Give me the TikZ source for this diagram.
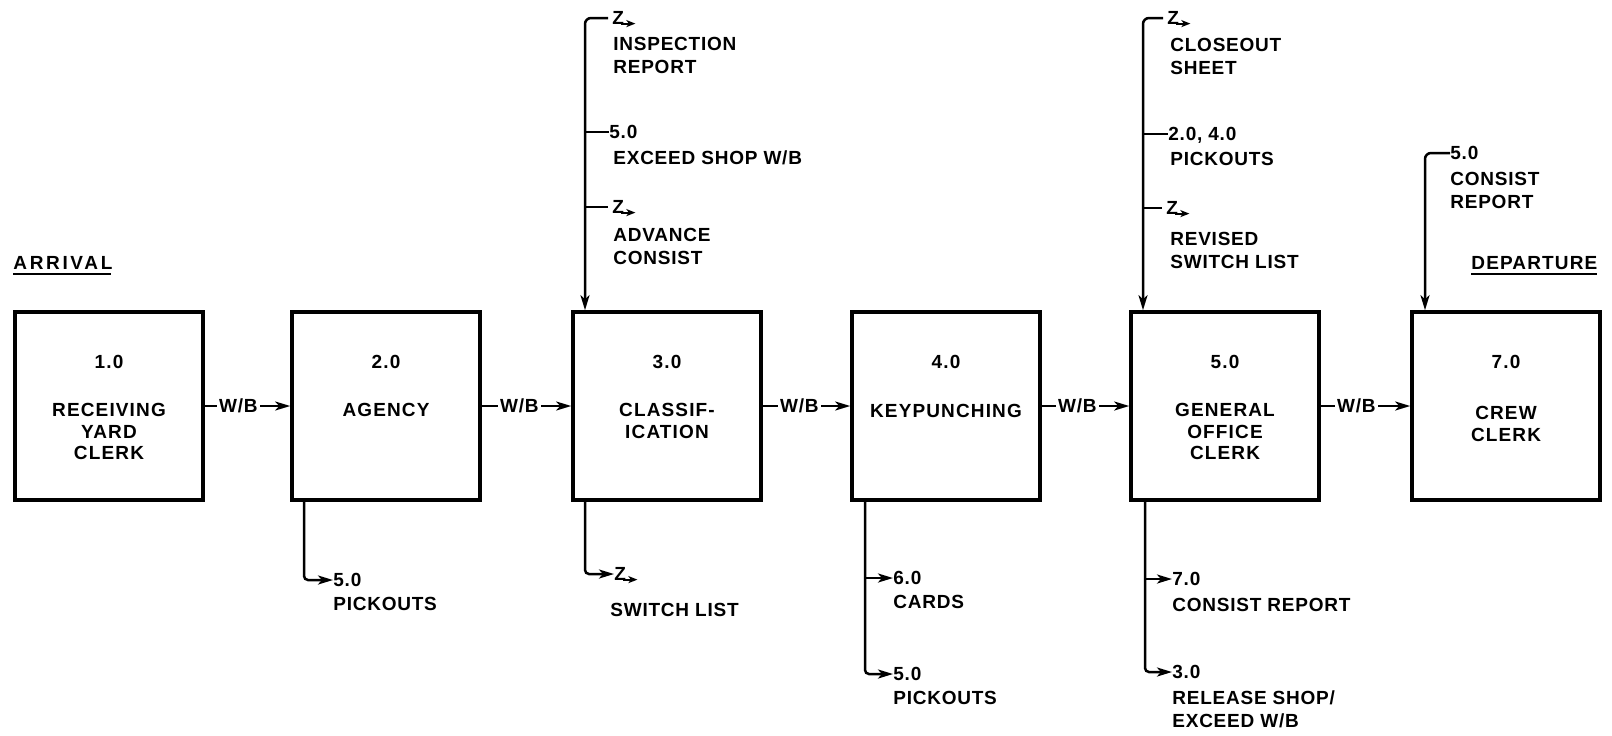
\documentclass[tikz,border=0pt]{standalone}
\usepackage{fontspec}
\setmainfont{Liberation Sans}
\newfontfamily\lblfam{Liberation Sans Bold}[LetterSpace=4]
\newfontfamily\boxfam{Liberation Sans Bold}[LetterSpace=6]
\newfontfamily\arrfam{Liberation Sans Bold}[LetterSpace=14]
\newfontfamily\depfam{Liberation Sans Bold}[LetterSpace=6]
\usetikzlibrary{arrows.meta}
\begin{document}
\begin{tikzpicture}[x=0.5pt,y=-0.5pt,
  box/.style={draw, line width=1.8pt, minimum width=94pt, minimum height=94pt, inner sep=0pt},
  conn/.style={line width=1.25pt},
  arr/.style={conn, -{Stealth[length=7.5pt,width=4.5pt,inset=2pt]}},
  zarr/.style={line width=1pt, -{Stealth[length=4.5pt,width=3.5pt,inset=1.2pt]}},
  ul/.style={line width=1.1pt},
  tag/.style={anchor=west, inner sep=0pt, text height=6.8pt, text depth=0pt, font=\lblfam\fontsize{9.5}{11.5}\selectfont},
  desc/.style={anchor=north west, inner sep=0pt, align=left, font=\lblfam\fontsize{9.5}{11.5}\selectfont},
  num/.style={inner sep=0pt, text height=6.8pt, text depth=0pt, font=\boxfam\fontsize{9.5}{10.8}\selectfont},
  inlbl/.style={anchor=north, inner sep=0pt, align=center, font=\boxfam\fontsize{9.5}{10.8}\selectfont},
  wb/.style={anchor=west, inner xsep=1pt, inner ysep=0pt, text height=6.8pt, text depth=0pt, font=\lblfam\fontsize{9.5}{11.5}\selectfont},
  title/.style={anchor=west, inner sep=0pt, text height=6.8pt, text depth=0pt}
]
\path[use as bounding box] (0,0) rectangle (1612,735);

% boxes
\node[box] (b1) at (109,406) {};
\node[box] (b2) at (386,406) {};
\node[box] (b3) at (667,406) {};
\node[box] (b4) at (946,406) {};
\node[box] (b5) at (1225,406) {};
\node[box] (b7) at (1506,406) {};

\node[num] (n1) at (109,362) {1.0};
\node[num] (n2) at (386,362) {2.0};
\node[num] (n3) at (667,362) {3.0};
\node[num] (n4) at (946,362) {4.0};
\node[num] (n5) at (1225,362) {5.0};
\node[num] (n7) at (1506,362) {7.0};

\node[inlbl] (l1) at (109,403) {RECEIVING\\YARD\\CLERK};
\node[inlbl] (l2) at (386,403) {AGENCY};
\node[inlbl] (l3) at (667,403) {CLASSIF-\\ICATION};
\node[inlbl] (l4) at (946,404) {KEYPUNCHING};
\node[inlbl] (l5) at (1225,403) {GENERAL\\OFFICE\\CLERK};
\node[inlbl] (l7) at (1506,406) {CREW\\CLERK};

% titles
\node[title, font=\arrfam\fontsize{9.5}{11.5}\selectfont] (arrival) at (13,263) {ARRIVAL};
\draw[ul] ([yshift=-2pt]arrival.south west) -- ([yshift=-2pt,xshift=-1pt]arrival.south east);
\node[title, font=\depfam\fontsize{9.5}{11.5}\selectfont] (departure) at (1471,263) {DEPARTURE};
\draw[ul] ([yshift=-2pt]departure.south west) -- ([yshift=-2pt,xshift=-0.5pt]departure.south east);

% W/B connectors
\node[wb] (w12) at ([xshift=6pt]b1.east) {W/B};
\draw[conn] (b1.east) -- (w12.west);
\draw[arr] (w12.east) -- (b2.west);
\node[wb] (w23) at ([xshift=8pt]b2.east) {W/B};
\draw[conn] (b2.east) -- (w23.west);
\draw[arr] (w23.east) -- (b3.west);
\node[wb] (w34) at ([xshift=7.5pt]b3.east) {W/B};
\draw[conn] (b3.east) -- (w34.west);
\draw[arr] (w34.east) -- (b4.west);
\node[wb] (w45) at ([xshift=7pt]b4.east) {W/B};
\draw[conn] (b4.east) -- (w45.west);
\draw[arr] (w45.east) -- (b5.west);
\node[wb] (w57) at ([xshift=7pt]b5.east) {W/B};
\draw[conn] (b5.east) -- (w57.west);
\draw[arr] (w57.east) -- (b7.west);

% inputs to 3.0
\coordinate (v3) at (585,18);
\node[tag] (t3a) at (612,18) {Z};
\draw[zarr] ([xshift=-1.5pt,yshift=0.8pt]t3a.south east) -- ++(14,0);
\node[desc] (d3a) at (613,37) {INSPECTION\\REPORT};
\node[tag] (t3b) at (609,132) {5.0};
\node[desc] (d3b) at (613,150) {EXCEED SHOP W/B};
\node[tag] (t3c) at (612,207) {Z};
\draw[zarr] ([xshift=-1.5pt,yshift=0.8pt]t3c.south east) -- ++(14,0);
\node[desc] (d3c) at (613,228) {ADVANCE\\CONSIST};
\draw[arr, rounded corners=3pt] ([xshift=-2pt]t3a.west) -- (v3) -- (v3 |- b3.north);
\draw[conn] (v3 |- t3b.west) -- (t3b.west);
\draw[conn] (v3 |- t3c.west) -- ([xshift=-2pt]t3c.west);

% output of 3.0
\coordinate (u3) at (585,574);
\node[tag] (t3d) at (614,574) {Z};
\draw[zarr] ([xshift=-1.5pt,yshift=0.8pt]t3d.south east) -- ++(14,0);
\node[desc] (d3d) at (610,603) {SWITCH LIST};
\draw[arr, rounded corners=2pt] (u3 |- b3.south) -- (u3) -- (t3d.west);

% inputs to 5.0
\coordinate (v5) at (1143,18);
\node[tag] (t5a) at (1167,18) {Z};
\draw[zarr] ([xshift=-1.5pt,yshift=0.8pt]t5a.south east) -- ++(14,0);
\node[desc] (d5a) at (1170,38) {CLOSEOUT\\SHEET};
\node[tag] (t5b) at (1168,134) {2.0, 4.0};
\node[desc] (d5b) at (1170,152) {PICKOUTS};
\node[tag] (t5c) at (1166,208) {Z};
\draw[zarr] ([xshift=-1.5pt,yshift=0.8pt]t5c.south east) -- ++(14,0);
\node[desc] (d5c) at (1170,232) {REVISED\\SWITCH LIST};
\draw[arr, rounded corners=3pt] ([xshift=-2pt]t5a.west) -- (v5) -- (v5 |- b5.north);
\draw[conn] (v5 |- t5b.west) -- (t5b.west);
\draw[conn] (v5 |- t5c.west) -- ([xshift=-2pt]t5c.west);

% input to 7.0
\coordinate (v7) at (1425,153);
\node[tag] (t7a) at (1450,153) {5.0};
\node[desc] (d7a) at (1450,172) {CONSIST\\REPORT};
\draw[arr, rounded corners=3pt] (t7a.west) -- (v7) -- (v7 |- b7.north);

% output of 2.0
\coordinate (u2) at (304,580);
\node[tag] (t2a) at (333,580) {5.0};
\node[desc] (d2a) at (333,597) {PICKOUTS};
\draw[arr, rounded corners=2pt] (u2 |- b2.south) -- (u2) -- (t2a.west);

% outputs of 4.0
\coordinate (u4) at (865,674);
\node[tag] (t4a) at (893,578) {6.0};
\node[desc] (d4a) at (893,595) {CARDS};
\node[tag] (t4b) at (893,674) {5.0};
\node[desc] (d4b) at (893,691) {PICKOUTS};
\draw[arr, rounded corners=2pt] (u4 |- b4.south) -- (u4) -- (t4b.west);
\draw[arr] (u4 |- t4a.west) -- (t4a.west);

% outputs of 5.0
\coordinate (u5) at (1145,672);
\node[tag] (t5d) at (1172,579) {7.0};
\node[desc] (d5d) at (1172,598) {CONSIST REPORT};
\node[tag] (t5e) at (1172,672) {3.0};
\node[desc] (d5e) at (1172,690) {RELEASE SHOP/\\EXCEED W/B};
\draw[arr, rounded corners=2pt] (u5 |- b5.south) -- (u5) -- (t5e.west);
\draw[arr] (u5 |- t5d.west) -- (t5d.west);
\end{tikzpicture}
\end{document}
